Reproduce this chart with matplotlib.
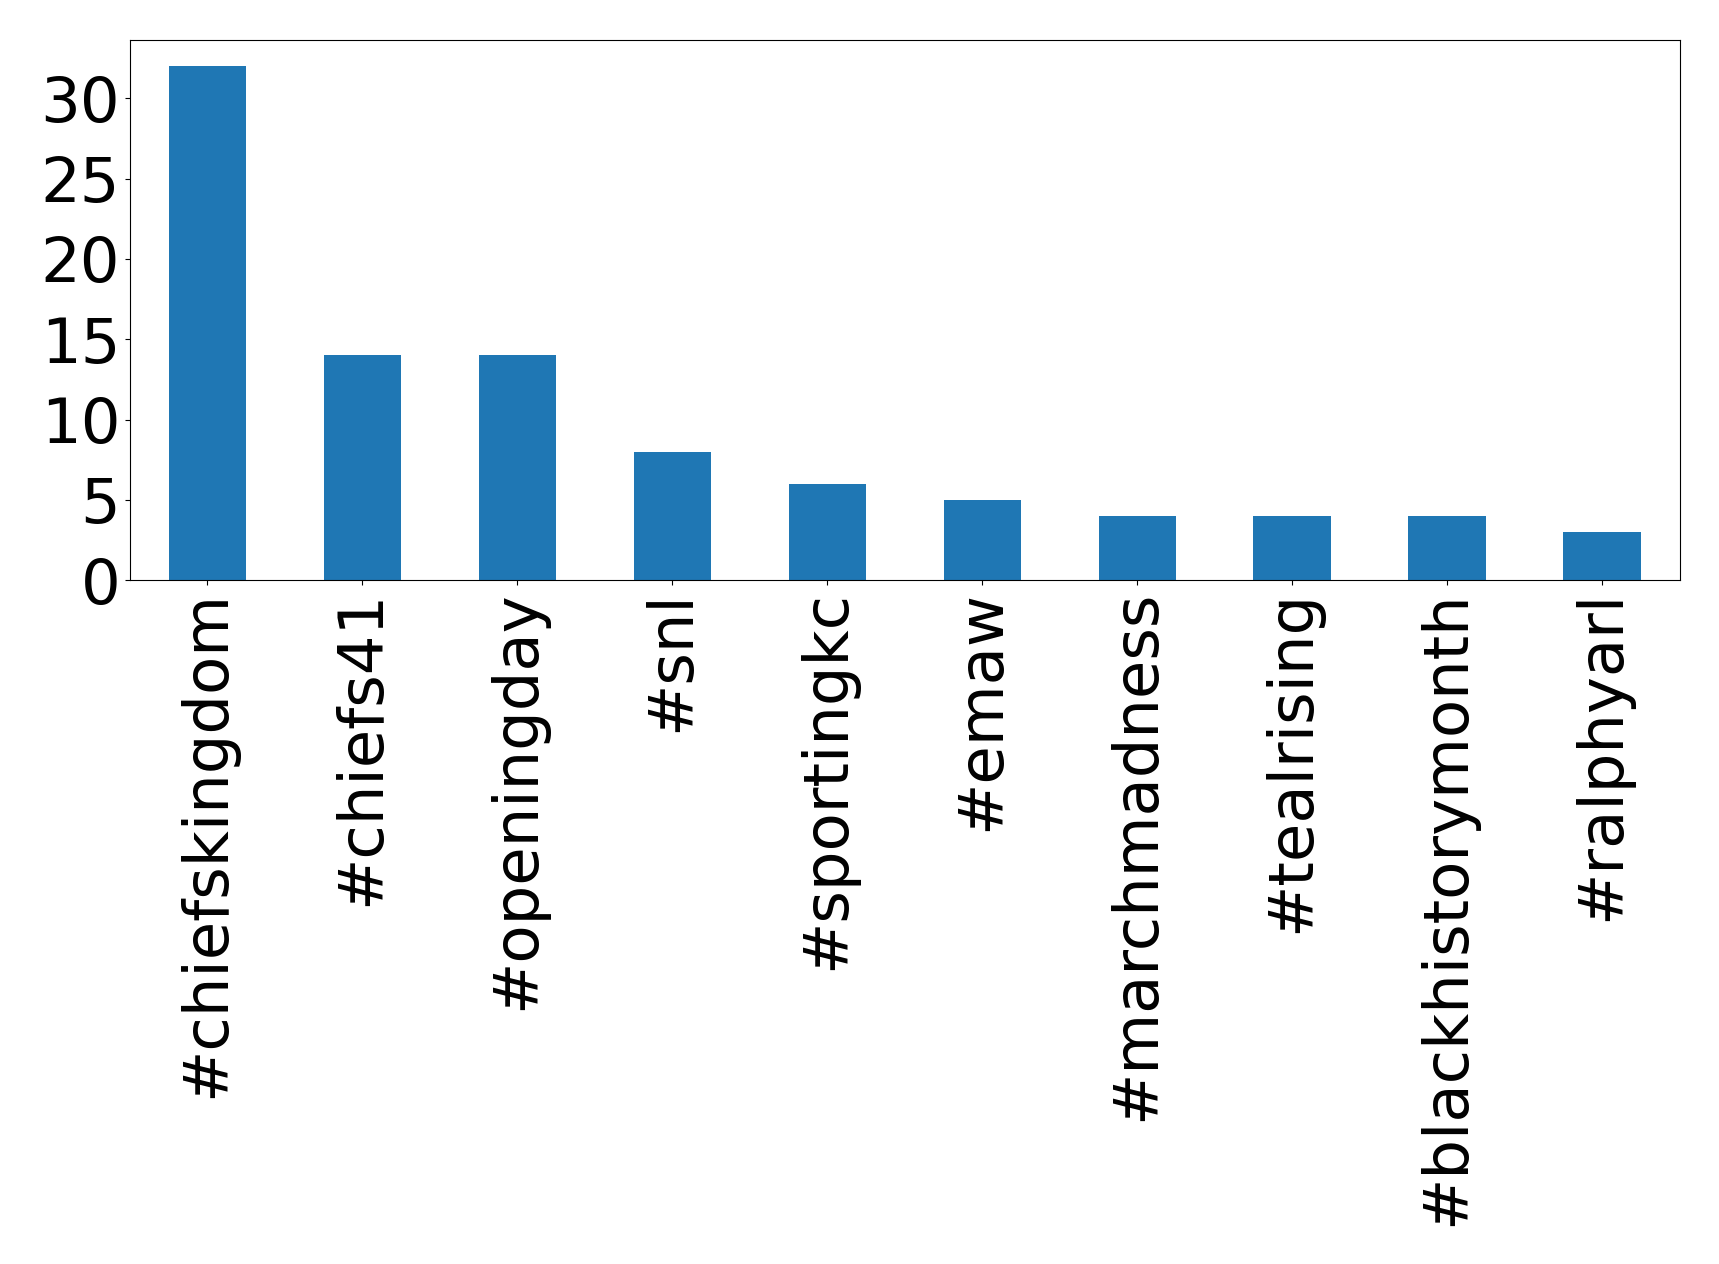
import matplotlib
matplotlib.use("Agg")
import matplotlib.pyplot as plt

categories = ["#chiefskingdom", "#chiefs41", "#openingday", "#snl", "#sportingkc",
              "#emaw", "#marchmadness", "#tealrising", "#blackhistorymonth", "#ralphyarl"]
values = [32, 14, 14, 8, 6, 5, 4, 4, 4, 3]
yticks = [0, 5, 10, 15, 20, 25, 30]

fig = plt.figure(figsize=(17.19, 12.64), dpi=100)
ax = fig.add_axes([0.0756, 0.541, 0.9015, 0.427])
x = range(len(categories))
ax.bar(x, values, width=0.5, color="#1f77b4")
ax.set_xlim(-0.5, len(categories) - 0.5)
ax.set_ylim(0, max(values) * 1.05)
ax.set_yticks(yticks)
ax.set_xticks(list(x))
ax.set_xticklabels(categories, rotation=90, fontsize=45)
ax.tick_params(axis="y", labelsize=45)
fig.savefig("out.png", dpi=100)
